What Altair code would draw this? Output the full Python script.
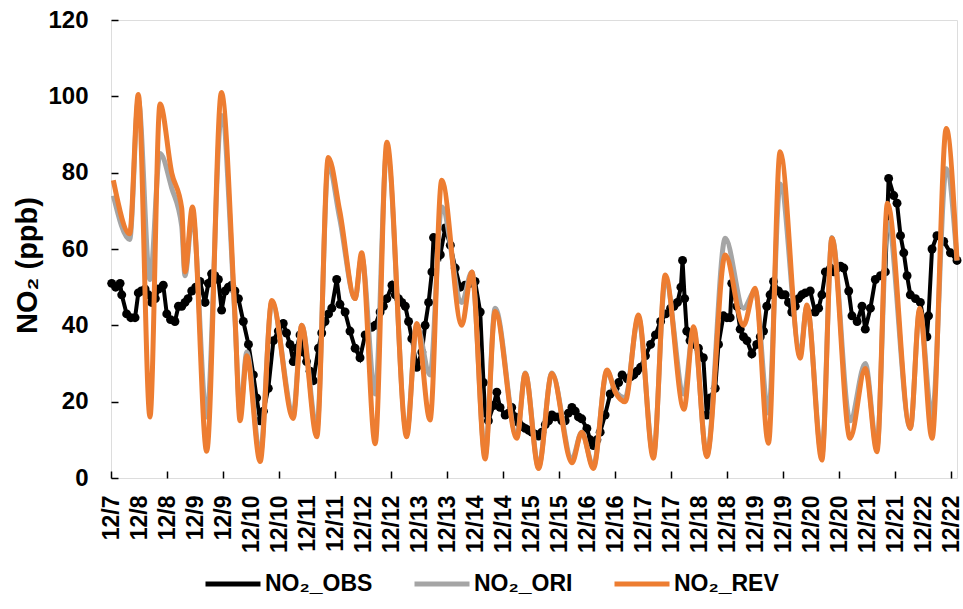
import altair as alt
import pandas as pd

# ---------------- data (hours since 12/7 00:00, NO2 in ppb) ----------------
OBS_HOURS = [0.3, 2, 3.9, 4.6, 6.7, 8.5, 10.3, 11.7, 13, 14.6, 16, 17.4, 19, 20.3, 22.4, 23.9,
             25.5, 27.4, 28.9, 30.3, 31.7, 33, 34.6, 36.3, 38.1, 40.3, 41.7, 43.1, 44.5, 46, 47.4,
             48.9, 50.3, 51.7, 53.1, 54.6, 56.7, 58.9, 61, 62.4, 63.9, 65.3, 67.4, 69.6, 71.7,
             73.8, 75.2, 76.7, 78.1, 79.6, 81, 82.4, 83.8, 85.3, 86.7, 88.9, 90.3, 91.7, 93.2,
             94.6, 96.7, 98.1, 100.3, 102.4, 104.6, 106.7, 108.9, 111.7, 113.2, 115.3, 116.7,
             118.2, 120.4, 121.8, 123.2, 124.6, 126.1, 127.5, 128.9, 131, 133.2, 134.6, 136.1,
             137.5, 138.2, 139.6, 141.1, 143.2, 145.4, 147.5, 149.6, 151.7, 153.8, 156, 158.2,
             159.6, 160.3, 161.7, 163.9, 165.3, 166.7, 168.9, 170.3, 171.7, 173.2, 174.6, 176,
             177.5, 179, 180.3, 181.8, 183.2, 184.6, 186.1, 187.5, 188.9, 190.3, 191.8, 193.2,
             194.6, 196, 197.5, 198.9, 200.3, 201.7, 203.9, 205.3, 206.7, 208.2, 209.6, 211.7,
             213.9, 216, 217.5, 219, 221.2, 222.6, 224, 225.4, 226.9, 229, 231.2, 233.3, 235.5,
             237.7, 239.8, 241.2, 242.7, 244.2, 244.9, 245.8, 246.7, 248.1, 250, 251.7, 253.8,
             255.3, 256.7, 258.9, 260.3, 262.4, 263.9, 265.3, 266, 268.2, 269.6, 271, 272.5,
             274.6, 276.7, 278.2, 279.6, 281, 282.4, 283.9, 286, 287.5, 288.9, 290.3, 291.7,
             293.2, 294.6, 296, 297.5, 299.6, 301.7, 303.2, 304.6, 306.1, 308.3, 309.7, 311.1,
             312.6, 314, 316.1, 317.5, 319.7, 321.8, 323.2, 325.4, 327.5, 329.7, 331.8, 333.2,
             335.4, 336.8, 338.3, 339.7, 341.1, 342.5, 344.7, 346.8, 348.2, 349.6, 350.3, 351.8,
             353.9, 356.8, 359.7, 362.5]
OBS_VALUES = [51, 50, 51, 48, 43, 42, 42, 48.5, 49, 49.5, 48, 46, 47, 49.5, 50.5, 43,
              41.5, 41, 45, 45, 46, 47, 49, 50, 51.5, 46, 51, 53.5, 53, 52, 44,
              49, 50, 50.5, 49, 47, 41, 35, 27, 21, 15, 17.5, 23.5, 36, 38.5,
              40.5, 38, 35, 30.5, 34, 37.5, 33, 30.5, 28, 25.5, 34, 38, 41, 43,
              44.5, 52, 45.5, 43.5, 38.5, 34, 31.5, 37.5, 39.5, 40, 43.5, 45,
              47, 50.5, 48, 47, 46, 45, 41, 36.5, 29, 33, 40, 46,
              54, 63, 61, 58.5, 65.5, 61, 55, 50, 50.5, 51, 51.5, 43.5,
              25, 17, 15, 19, 22.5, 18.5, 16.5, 17, 18.5, 16, 14.5, 13.5,
              13, 12.5, 12, 11.5, 11, 12, 14, 15, 16.5, 16, 16, 15,
              15, 17, 18.5, 17.5, 16, 15.5, 13, 10, 8.5, 10, 12, 16.5,
              22, 23.5, 25, 27, 26, 26.5, 27, 28, 29, 32, 35, 37.5, 41,
              43, 44.5, 45, 46, 50, 57, 47, 38.5, 36, 35, 34, 31.5,
              16.5, 21, 23.5, 35, 42.5, 42, 42, 51, 45, 39, 37, 36,
              32.5, 35, 37, 38.5, 45, 48, 51.5, 49, 48, 48, 46, 43.5,
              45, 47, 48, 48.5, 49, 43.5, 44.5, 48, 54, 55, 54, 55,
              55.5, 55, 49, 42.5, 41, 45, 39, 44.5, 52, 53, 54, 78.5,
              74, 72, 63.5, 59, 53, 48, 47, 46, 41, 37, 42.5, 60,
              63.5, 62, 59, 57]

SIM_HOURS = [1, 8, 11.7, 16.7, 21, 26, 30.3, 31.7, 34.9, 41, 47.3, 53.1, 55.3, 58.2, 63.9,
             68.9, 78.1, 81.7, 88.2, 93.1, 98, 104.6, 107.4, 113.2, 118.2, 126.7, 131, 136.7,
             141.7, 150.3, 154.6, 160.3, 164.6, 173.9, 177.5, 183.2, 188.9, 197.5, 201.7,
             206.7, 212.5, 216, 220.3, 226, 232.4, 237.5, 245.5, 249.6, 255.3, 263.2, 271,
             276, 281.7, 286.7, 295.3, 298.2, 304.6, 308.9, 316.7, 323.2, 328.2, 332.7,
             342.5, 346.5, 351.8, 357.9, 362.5]
REV_VALUES = [78, 64, 100.5, 16, 98, 80, 70.7, 54, 71, 7, 101, 42.7, 15, 32, 4.3,
              46.5, 15.6, 40, 10.8, 84, 70, 47, 59, 9, 88, 10.8, 40.5, 15.2,
              78, 40, 54, 5, 43.6, 10.4, 27.4, 2.5, 27.4, 4, 12,
              2.5, 28.3, 22.6, 20, 42.7, 5.2, 53.2, 18, 39.6, 5.6, 58.4, 40,
              49.7, 9.1, 85.5, 31.4, 45.3, 4.7, 62.8, 10.4, 28.7, 6.9, 72,
              13, 44.5, 10.4, 91.6, 57]
ORI_VALUES = [74, 62.5, 99, 52, 85, 76, 66, 53, 69, 16, 95, 42, 17, 33, 6,
              46, 17, 40, 13, 82, 68, 47, 58, 22, 86, 12, 40, 27,
              71, 46, 54, 6, 44.5, 11, 27.5, 3, 27.5, 5, 12,
              3, 28, 23, 21, 42, 6, 52, 22, 39, 6, 62.8, 44.5,
              49, 17, 77, 33, 45, 6, 63, 15, 30, 8, 67,
              13, 44, 16, 81, 57]

SERIES = ["NO\u2082_OBS", "NO\u2082_ORI", "NO\u2082_REV"]
COLORS = ["#000000", "#A5A5A5", "#ED7D31"]
X_TICK_HOURS = list(range(0, 361, 12))
Y_TICKS = [0, 20, 40, 60, 80, 100, 120]

rows = []
for h, v in zip(OBS_HOURS, OBS_VALUES):
    rows.append({"series": SERIES[0], "hour": h, "value": v})
for h, v in zip(SIM_HOURS, ORI_VALUES):
    rows.append({"series": SERIES[1], "hour": h, "value": v})
for h, v in zip(SIM_HOURS, REV_VALUES):
    rows.append({"series": SERIES[2], "hour": h, "value": v})
df = pd.DataFrame(rows)

FONT = "Liberation Sans"

legend = alt.Legend(
    orient="none", legendX=92, legendY=534, direction="horizontal", title=None,
    symbolType="stroke", symbolSize=3025, symbolStrokeWidth=5,
    labelFontSize=23, labelFontWeight="bold", labelColor="black", labelFont=FONT,
    columnPadding=31, labelOffset=2, padding=0,
)

x_enc = alt.X(
    "hour:Q",
    scale=alt.Scale(domain=[0, 362.5], nice=False, zero=False),
    axis=alt.Axis(
        values=X_TICK_HOURS,
        labelExpr="'12/' + (7 + ceil(datum.value / 24))",
        labelAngle=270, labelFontSize=23, labelFontWeight="bold", labelColor="black",
        labelFont=FONT, labelPadding=17, labelOverlap=False, labelFlush=False, labelBound=False,
        tickSize=7, tickWidth=1.5, tickColor="black",
        tickOpacity={"condition": {"test": "datum.value % 24 === 0", "value": 1}, "value": 0},
        offset=-7, domain=False, grid=False, title=None,
    ),
)
y_enc = alt.Y(
    "value:Q",
    scale=alt.Scale(domain=[0, 120], nice=False),
    axis=alt.Axis(
        values=Y_TICKS, labelFontSize=24, labelFontWeight="bold", labelColor="black",
        labelFont=FONT, labelPadding=23, tickSize=7, tickWidth=1.5, tickColor="black",
        offset=-7, domain=False, grid=False,
        title="NO\u2082 (ppb)", titleFontSize=29, titleFontWeight="bold", titleFont=FONT,
        titleColor="black", titleAngle=270, titleX=-91, titleY=245,
        titleAlign="center", titleBaseline="middle",
    ),
)
color_enc = alt.Color("series:N", scale=alt.Scale(domain=SERIES, range=COLORS), legend=legend)

base = alt.Chart(df).encode(x=x_enc, y=y_enc, color=color_enc)

obs_line = base.transform_filter(alt.datum.series == SERIES[0]).mark_line(strokeWidth=4)
obs_pts = base.transform_filter(alt.datum.series == SERIES[0]).mark_circle(size=80, opacity=1)
ori_line = base.transform_filter(alt.datum.series == SERIES[1]).mark_line(
    strokeWidth=5, interpolate="monotone")
rev_line = base.transform_filter(alt.datum.series == SERIES[2]).mark_line(
    strokeWidth=5, interpolate="monotone")

chart = (
    alt.layer(obs_line, obs_pts, ori_line, rev_line)
    .properties(
        width=846, height=458,
        autosize=alt.AutoSizeParams(type="none"),
        padding={"left": 111, "top": 20, "right": 6, "bottom": 131},
        background="white",
    )
    .configure_view(stroke="black", strokeWidth=1.5)
    .configure(font=FONT)
)

chart.save("out.html", embed_options={"renderer": "svg", "actions": False})
